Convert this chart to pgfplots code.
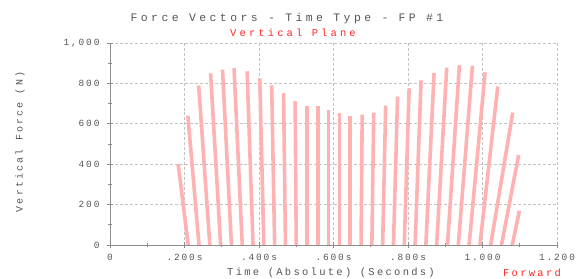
\documentclass[border=0pt]{standalone}
\usepackage{fontspec}
\setmainfont{Liberation Mono}
\usepackage{pgfplots}
\usepackage{pgfplotstable}
\pgfplotsset{compat=1.18}
\usetikzlibrary{calc}
\definecolor{vec}{RGB}{255,178,178}
\definecolor{txt}{RGB}{85,85,85}
\definecolor{axg}{RGB}{140,140,140}
\definecolor{grd}{RGB}{195,195,195}
\definecolor{redtxt}{RGB}{255,40,40}
\newfontfamily\titlefont[LetterSpace=30]{Liberation Mono}
\newfontfamily\tickfont[LetterSpace=20]{Liberation Mono}
\newfontfamily\labfont[LetterSpace=22]{Liberation Mono}

\pgfplotstableread{
t     b  u       F
0.210 0 -0.027  400
0.239 0 -0.030  640
0.268 0 -0.030  790
0.297 0 -0.027  850
0.326 0 -0.024  868
0.355 0 -0.022  876
0.384 0 -0.016  860
0.413 0 -0.011  825
0.442 0 -0.008  790
0.471 0 -0.005  752
0.500 0 -0.003  712
0.529 0  0.000  690
0.558 0  0.000  690
0.587 0  0.000  668
0.616 0  0.000  652
0.645 0  0.000  640
0.674 0  0.003  645
0.703 0  0.005  655
0.732 0  0.008  690
0.761 0  0.011  735
0.790 0  0.013  775
0.819 0  0.016  815
0.848 0  0.022  852
0.877 0  0.027  878
0.906 0  0.032  890
0.935 0  0.038  888
0.964 0  0.043  855
0.993 0  0.048  785
1.022 0  0.059  655
1.051 0  0.046  445
1.080 0  0.019  170
}\vecdata

\begin{document}
\begin{tikzpicture}
\begin{axis}[name=ax,
  scale only axis, width=447bp, height=202bp,
  xmin=0, xmax=1.2, ymin=0, ymax=1000,
  axis lines=left, axis line style={-, draw=axg, line width=0.8bp},
  tick align=center,
  xtick={0,0.2,0.4,0.6,0.8,1.0,1.2},
  xticklabels={0,.200s,.400s,.600s,.800s,1.000,1.200},
  ytick={0,200,400,600,800,1000},
  yticklabels={0,200,400,600,800,{1,000}},
  minor x tick num=1, minor y tick num=1,
  grid=major, major grid style={densely dashed, grd, line width=0.6bp},
  tick style={axg, line width=0.8bp}, major tick length=6bp, minor tick length=4bp,
  tick label style={font=\tickfont\fontsize{9.5}{11}\selectfont, text=txt},
  xticklabel style={yshift=-3bp},
  yticklabel style={xshift=-4bp},
  clip=false,
]
\addplot[vec, line width=3.6bp, quiver={u=\thisrow{u}, v=\thisrow{F}}]
  table[x=t, y=b] {\vecdata};
\end{axis}
\node[font=\titlefont\fontsize{11.5}{13}\selectfont, text=txt] at ($(ax.south west)+(177bp,226bp)$) {Force Vectors - Time Type - FP \#1};
\node[font=\titlefont\fontsize{10.5}{12}\selectfont, text=redtxt] at ($(ax.south west)+(183bp,212bp)$) {Vertical Plane};
\node[font=\labfont\fontsize{10}{12}\selectfont, text=txt, rotate=90] at ($(ax.south west)+(-90bp,103bp)$) {Vertical Force (N)};
\node[font=\labfont\fontsize{10.5}{12}\selectfont, text=txt] at ($(ax.south west)+(221bp,-28bp)$) {Time (Absolute) (Seconds)};
\node[font=\labfont\fontsize{10.5}{12}\selectfont, text=redtxt] at ($(ax.south west)+(422bp,-28bp)$) {Forward};
\pgfresetboundingbox
\path ($(ax.south west)+(-110bp,-34bp)$) rectangle ($(ax.north east)+(24bp,43bp)$);
\end{tikzpicture}
\end{document}
